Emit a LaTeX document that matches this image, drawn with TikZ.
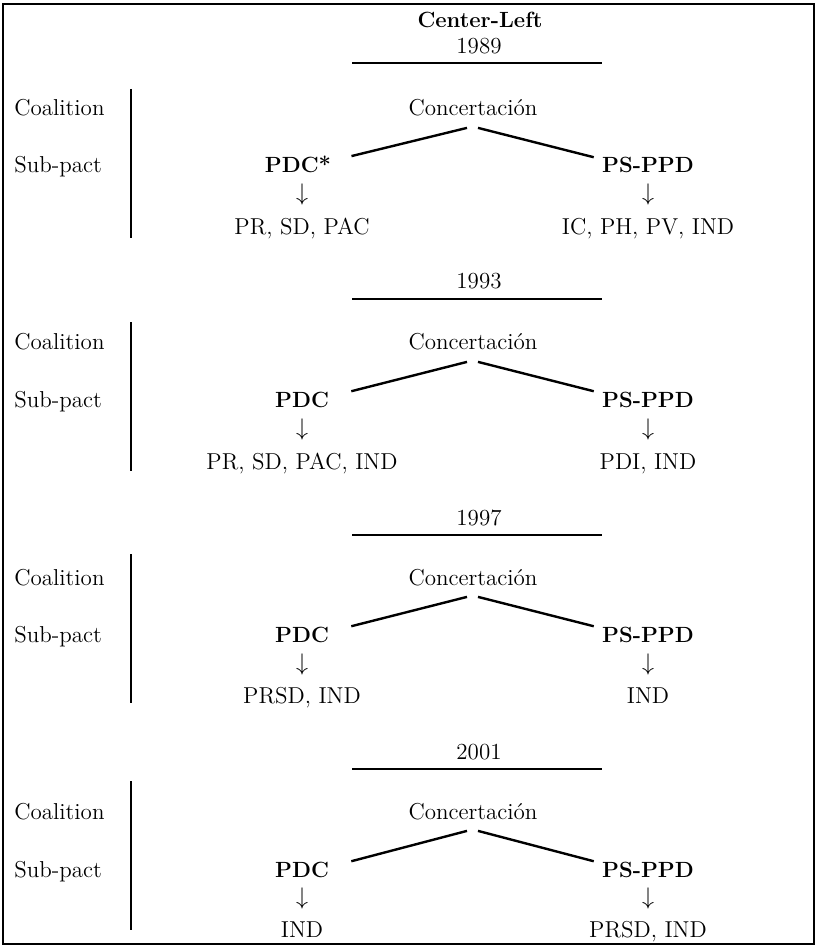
\documentclass[tikz,border=0pt]{standalone}
\usepackage{tikz}

\begin{document}
\begin{tikzpicture}[x=0.5pt,y=-0.5pt,
  txt/.style={anchor=base,inner sep=0pt,font=\fontsize{11.5}{13}\selectfont},
  party/.style={anchor=base,inner sep=0pt,font=\fontsize{11}{13}\selectfont\bfseries},
  row/.style={txt,anchor=base west},
  bar/.style={line width=1.2pt},
  link/.style={line width=1.2pt}]
\useasboundingbox (0,0) rectangle (816,946);
% Frame
\draw[line width=0.8pt] (3,4) rectangle (814,944);
% Title
\node[party] (title) at (480,28) {Center-Left};

% 1989
\node[txt] (yr89) at (479,54) {1989};
\draw[bar] (352,63) -- (602,63);
\draw[bar] (131,89) -- (131,238);
\node[row] (coal89) at (14,116) {Coalition};
\node[row] (sub89) at (14,173) {Sub-pact};
\node[txt] (conc89) at (473,116) {Concertación};
\node[party] (pdc89) at (298,173) {PDC*};
\node[party] (ps89) at (648,173) {PS-PPD};
\node[txt] (dl89) at (302,201) {$\downarrow$};
\node[txt] (dr89) at (648,201) {$\downarrow$};
\node[txt] (ml89) at (302,235) {PR, SD, PAC};
\node[txt] (mr89) at (648,235) {IC, PH, PV, IND};
\draw[link] ([xshift=-3pt,yshift=-5.5pt]conc89.south) -- ([xshift=10pt]pdc89.north east);
\draw[link] ([xshift=2.5pt,yshift=-5.5pt]conc89.south) -- ([xshift=-4pt]ps89.north west);

% 1993
\node[txt] (yr93) at (479,289) {1993};
\draw[bar] (352,299) -- (602,299);
\draw[bar] (131,322) -- (131,471);
\node[row] (coal93) at (14,350) {Coalition};
\node[row] (sub93) at (14,407) {Sub-pact};
\node[txt] (conc93) at (473,350) {Concertación};
\node[party] (pdc93) at (302,407) {PDC};
\node[party] (ps93) at (648,407) {PS-PPD};
\node[txt] (dl93) at (302,435) {$\downarrow$};
\node[txt] (dr93) at (648,435) {$\downarrow$};
\node[txt] (ml93) at (302,469) {PR, SD, PAC, IND};
\node[txt] (mr93) at (648,469) {PDI, IND};
\draw[link] ([xshift=-3pt,yshift=-5.5pt]conc93.south) -- ([xshift=11pt]pdc93.north east);
\draw[link] ([xshift=2.5pt,yshift=-5.5pt]conc93.south) -- ([xshift=-4pt]ps93.north west);

% 1997
\node[txt] (yr97) at (479,525) {1997};
\draw[bar] (352,535) -- (602,535);
\draw[bar] (131,554) -- (131,703);
\node[row] (coal97) at (14,585) {Coalition};
\node[row] (sub97) at (14,642) {Sub-pact};
\node[txt] (conc97) at (473,585) {Concertación};
\node[party] (pdc97) at (302,642) {PDC};
\node[party] (ps97) at (648,642) {PS-PPD};
\node[txt] (dl97) at (302,670) {$\downarrow$};
\node[txt] (dr97) at (648,670) {$\downarrow$};
\node[txt] (ml97) at (302,703) {PRSD, IND};
\node[txt] (mr97) at (648,703) {IND};
\draw[link] ([xshift=-3pt,yshift=-5.5pt]conc97.south) -- ([xshift=11pt]pdc97.north east);
\draw[link] ([xshift=2.5pt,yshift=-5.5pt]conc97.south) -- ([xshift=-4pt]ps97.north west);

% 2001
\node[txt] (yr01) at (479,759) {2001};
\draw[bar] (352,769) -- (602,769);
\draw[bar] (131,781) -- (131,930);
\node[row] (coal01) at (14,819) {Coalition};
\node[row] (sub01) at (14,877) {Sub-pact};
\node[txt] (conc01) at (473,819) {Concertación};
\node[party] (pdc01) at (302,877) {PDC};
\node[party] (ps01) at (648,877) {PS-PPD};
\node[txt] (dl01) at (302,904) {$\downarrow$};
\node[txt] (dr01) at (648,904) {$\downarrow$};
\node[txt] (ml01) at (302,937) {IND};
\node[txt] (mr01) at (648,937) {PRSD, IND};
\draw[link] ([xshift=-3pt,yshift=-5.5pt]conc01.south) -- ([xshift=11pt]pdc01.north east);
\draw[link] ([xshift=2.5pt,yshift=-5.5pt]conc01.south) -- ([xshift=-4pt]ps01.north west);
\end{tikzpicture}
\end{document}
